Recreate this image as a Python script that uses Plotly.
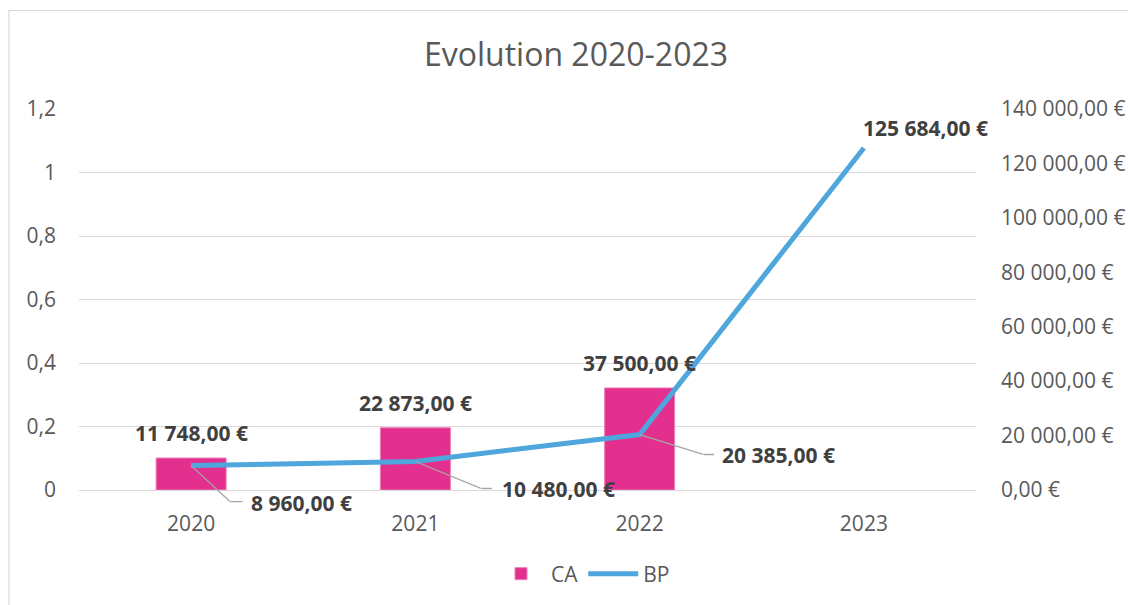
import plotly.graph_objects as go

# ---- data ----
years = ["2020", "2021", "2022", "2023"]
ca_years = ["2020", "2021", "2022"]
ca_values = [11748, 22873, 37500]
bp_values = [8960, 10480, 20385, 125684]

# label placement (pixel offsets from each point)
bp_label_dx = [58, 85, 80, -3]
bp_label_dy = [-37, -28, -20, 20]
# leader lines: (elbow dx, elbow dy (down), horizontal length)
bp_leader = [(39, 36, 13), (66, 27, 11), (64, 20, 11), None]

FONT = "Open Sans"
GRAY = "#595959"
DARK = "#404040"
PINK = "#E3308F"
BLUE = "#4EA6DC"
GRID = "#D9D9D9"
LEADER = "#A6A6A6"


def eur(v):
    s = f"{v:,.2f}"
    s = s.replace(",", " ").replace(".", ",")
    return s + " €"


fig = go.Figure()
# empty series that only carries the left (0 - 1,2) axis
fig.add_trace(go.Scatter(
    x=years, y=[None] * len(years), yaxis="y2", mode="lines",
    showlegend=False, hoverinfo="skip",
))
fig.add_trace(go.Bar(
    x=ca_years, y=ca_values, name="CA", yaxis="y",
    marker=dict(color=PINK, line=dict(color="#EE7DB8", width=1)),
    width=0.312,
))
fig.add_trace(go.Scatter(
    x=years, y=bp_values, name="BP", yaxis="y", mode="lines",
    line=dict(color=BLUE, width=5),
))

label_font = dict(family=FONT, size=21, color=DARK)
for x, v in zip(ca_years, ca_values):
    i = years.index(x)
    fig.add_annotation(
        x=i, y=v, xref="x", yref="y", text="<b>" + eur(v) + "</b>", showarrow=False,
        xanchor="center", yanchor="middle", yshift=25, font=label_font,
    )
for i, (v, dx, dy, ld) in enumerate(zip(bp_values, bp_label_dx, bp_label_dy, bp_leader)):
    fig.add_annotation(
        x=i, y=v, xref="x", yref="y", text="<b>" + eur(v) + "</b>", showarrow=False,
        xanchor="left", yanchor="middle", xshift=dx, yshift=dy, font=label_font,
    )
    if ld is not None:
        a, b, c = ld
        # diagonal part of the leader line (head on the point)
        fig.add_annotation(
            x=i, y=v, xref="x", yref="y", text=" ", showarrow=True, arrowhead=0,
            ax=a, ay=b, arrowwidth=1.3, arrowcolor=LEADER, standoff=0, startstandoff=0,
            font=dict(size=1), borderpad=0,
        )
        # horizontal part
        fig.add_annotation(
            x=i, y=v, xref="x", yref="y", text=" ", showarrow=True, arrowhead=0,
            xshift=a, yshift=-b, ax=c, ay=0, arrowwidth=1.3, arrowcolor=LEADER,
            standoff=0, startstandoff=0, font=dict(size=1), borderpad=0,
        )

# chart border
fig.add_shape(
    type="rect", xref="paper", yref="paper",
    x0=(9 - 79) / 897, x1=(1135 - 79) / 897, y0=(490 - 612) / 381, y1=(490 - 10.5) / 381,
    line=dict(color=GRID, width=1.2), fillcolor="rgba(0,0,0,0)", layer="below",
)

fig.update_layout(
    width=1128, height=605, autosize=False,
    margin=dict(l=79, r=152, t=109, b=115, autoexpand=False),
    paper_bgcolor="white", plot_bgcolor="white",
    separators=", ",
    font=dict(family=FONT, size=21, color=GRAY),
    title=dict(text="Evolution 2020-2023", x=(576 - 79) / 897, xref="paper", xanchor="center",
               y=1 - 55 / 605, yref="container", yanchor="middle",
               font=dict(family=FONT, size=32, color=GRAY)),
    xaxis=dict(type="category", categoryorder="array", categoryarray=years,
               range=[-0.5, 3.5], showgrid=False, showline=False, zeroline=False,
               ticks="", ticklabelstandoff=19, automargin=False,
               tickfont=dict(size=21, color=GRAY)),
    yaxis=dict(range=[0, 140000], dtick=20000, tick0=0, side="right",
               showgrid=False, zeroline=False, showline=False, tickformat=",.2f",
               ticksuffix=" €", ticks="", ticklabelstandoff=24, automargin=False,
               tickfont=dict(size=21, color=GRAY)),
    yaxis2=dict(range=[0, 1.2], dtick=0.2, tick0=0, overlaying="y", side="left",
                showgrid=True, gridcolor=GRID, gridwidth=1,
                zeroline=True, zerolinecolor=GRID, zerolinewidth=1, showline=False,
                ticks="", ticklabelstandoff=22, automargin=False,
                tickfont=dict(size=21, color=GRAY)),
    legend=dict(orientation="h", x=(583 - 79) / 897, xanchor="center",
                y=(490 - 574) / 381, yanchor="middle",
                font=dict(family=FONT, size=21, color=GRAY), itemwidth=50),
    showlegend=True,
)

fig.write_html("out.html", config={"displayModeBar": False},
               post_script="document.body.style.margin='0';")
